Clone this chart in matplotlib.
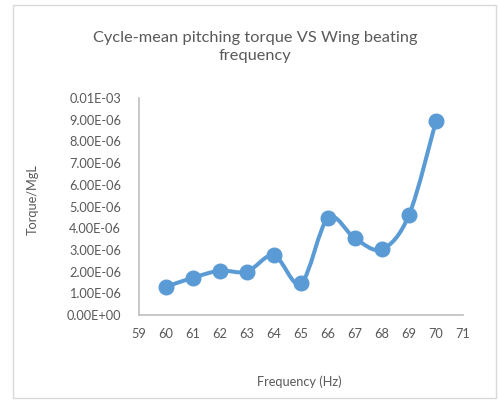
import matplotlib
matplotlib.use('Agg')
import matplotlib.pyplot as plt
import numpy as np
from matplotlib.path import Path
from matplotlib.patches import PathPatch, Rectangle

plt.rcParams['font.family'] = ['Lato', 'DejaVu Sans']

freq = [60, 61, 62, 63, 64, 65, 66, 67, 68, 69, 70]
torque = [1.30e-6, 1.72e-6, 2.04e-6, 2.00e-6, 2.75e-6, 1.46e-6,
          4.46e-6, 3.53e-6, 3.03e-6, 4.61e-6, 8.94e-6]
yticks = [0, 1e-6, 2e-6, 3e-6, 4e-6, 5e-6, 6e-6, 7e-6, 8e-6, 9e-6, 1e-5]
ytick_labels = ['0.00E+00', '1.00E-06', '2.00E-06', '3.00E-06', '4.00E-06',
                '5.00E-06', '6.00E-06', '7.00E-06', '8.00E-06', '9.00E-06',
                '0.01E-03']
xticks = list(range(59, 72))

blue = '#5B9BD5'
grey = '#595959'

fig = plt.figure(figsize=(4.99, 4.0), dpi=100)
ax = fig.add_axes([139/499, 1-315/400, (463-139)/499, (315-98)/400])

# smooth line like excel (catmull-rom as bezier segments)
x = np.array(freq, dtype=float)
y = np.array(torque)
verts = [(x[0], y[0])]
codes = [Path.MOVETO]
n = len(x)
for i in range(n-1):
    p0 = np.array([x[max(i-1, 0)], y[max(i-1, 0)]])
    p1 = np.array([x[i], y[i]])
    p2 = np.array([x[i+1], y[i+1]])
    p3 = np.array([x[min(i+2, n-1)], y[min(i+2, n-1)]])
    c1 = p1 + (p2 - p0)/6
    c2 = p2 - (p3 - p1)/6
    verts += [tuple(c1), tuple(c2), tuple(p2)]
    codes += [Path.CURVE4]*3
ax.add_patch(PathPatch(Path(verts, codes), facecolor='none', edgecolor=blue, lw=2.9))
ax.plot(freq, torque, 'o', color=blue, ms=10.5, zorder=3)

ax.set_xlim(59, 71)
ax.set_ylim(0, 1e-5)
ax.set_xticks(xticks)
ax.set_yticks(yticks)
ax.set_yticklabels(ytick_labels)
ax.tick_params(length=0, labelsize=9.2, labelcolor=grey, pad=9)
ax.tick_params(axis='y', pad=13)
for s in ['top', 'right']:
    ax.spines[s].set_visible(False)
for s in ['left', 'bottom']:
    ax.spines[s].set_color('#BFBFBF')
    ax.spines[s].set_linewidth(1.2)

fig.text(255/499, 1-47/400, 'Cycle-mean pitching torque VS Wing beating\nfrequency',
         ha='center', va='center', fontsize=11.8, color=grey, linespacing=1.3)
fig.text(299/499, 1-382/400, 'Frequency (Hz)', ha='center', va='center',
         fontsize=9.2, color=grey)
fig.text(33/499, 1-200/400, 'Torque/MgL', ha='center', va='center',
         rotation=90, fontsize=9.2, color=grey)

fig.patches.append(Rectangle((13/499, 2/400), 483/499, 393/400, transform=fig.transFigure,
                             fill=False, edgecolor='#D9D9D9', lw=1))

fig.savefig('out.png', dpi=100)
